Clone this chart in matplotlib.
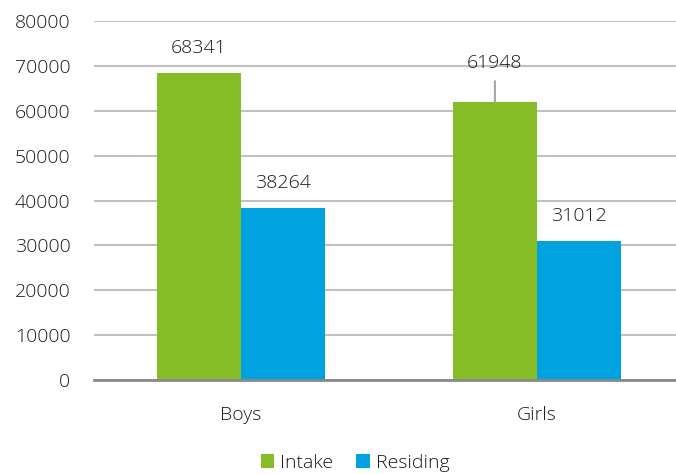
import numpy as np
import matplotlib.pyplot as plt

# data
categories = ['Boys', 'Girls']
intake = [68341, 61948]
residing = [38264, 31012]
series_names = ['Intake', 'Residing']

green = '#86BC25'
blue = '#00A3E0'
txt = '#1A1A1A'

plt.rcParams['font.family'] = ['Open Sans', 'DejaVu Sans']
plt.rcParams['font.weight'] = 'light'

fig = plt.figure(figsize=(6.76, 4.74), dpi=100)
W, H = 676, 474
# plot area: x 94..676, y 21..380 (pixels)
ax = fig.add_axes([94 / W, 1 - 380 / H, (676 - 94) / W, (380 - 21) / H])

x = np.arange(len(categories))
w = 0.284
b1 = ax.bar(x - w / 2, intake, w, color=green, label=series_names[0], zorder=3)
b2 = ax.bar(x + w / 2, residing, w, color=blue, label=series_names[1], zorder=3)

ax.set_xlim(-0.497, 1.47)
ax.set_ylim(0, 80000)
ax.set_yticks(np.arange(0, 80001, 10000))
ax.set_xticks(x)
ax.set_xticklabels(categories)

ax.grid(axis='y', color='#C0C0C0', linewidth=1.5, zorder=0)
for s in ['left', 'right', 'top']:
    ax.spines[s].set_visible(False)
ax.spines['bottom'].set_color('#898989')
ax.spines['bottom'].set_linewidth(2)
ax.spines['bottom'].set_zorder(4)
ax.tick_params(axis='both', length=0, labelsize=14, colors=txt)
ax.tick_params(axis='y', pad=17)
ax.tick_params(axis='x', pad=19)

# value labels
fs = 14
for bars, vals in [(b1, intake), (b2, residing)]:
    for i, (bar, v) in enumerate(zip(bars, vals)):
        cx = bar.get_x() + bar.get_width() / 2
        if bars is b1 and i == 1:
            # label lifted with a leader line
            ax.annotate(str(v), xy=(cx, v), xytext=(0, 28), textcoords='offset points',
                        ha='center', va='center', fontsize=fs, color=txt)
            ax.annotate('', xy=(cx, v), xytext=(0, 15), textcoords='offset points',
                        arrowprops=dict(arrowstyle='-', color='#A6A6A6', lw=1.5,
                                        shrinkA=0, shrinkB=0))
        else:
            ax.annotate(str(v), xy=(cx, v), xytext=(0, 18), textcoords='offset points',
                        ha='center', va='center', fontsize=fs, color=txt)

fig.legend(loc='center', bbox_to_anchor=(355 / W, 1 - 463 / H), ncol=2, frameon=False,
           fontsize=14, handlelength=0.7, handleheight=0.7, handletextpad=0.3,
           columnspacing=1.2, labelcolor=txt)

fig.savefig('out.png', dpi=100)
